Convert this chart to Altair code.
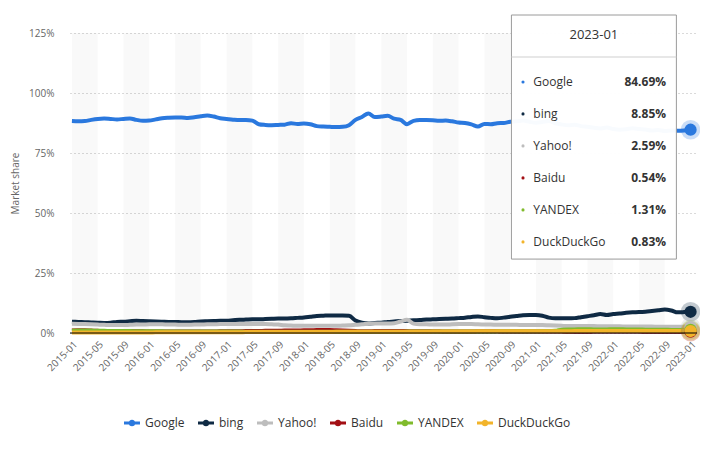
import json
import altair as alt
import pandas as pd

# ---------------- data ----------------
SERIES = ["Google", "bing", "Yahoo!", "Baidu", "YANDEX", "DuckDuckGo"]
COLORS = ["#2a78de", "#0f2a44", "#bdbdbd", "#a30f14", "#80bb2c", "#f2b42a"]

MONTHS = [f"{y}-{m:02d}" for y in range(2015, 2023) for m in range(1, 13)] + ["2023-01"]
TICK_LABELS = ["2015-01", "2015-05", "2015-09", "2016-01", "2016-05", "2016-09",
               "2017-01", "2017-05", "2017-09", "2018-01", "2018-05", "2018-09",
               "2019-01", "2019-05", "2019-09", "2020-01", "2020-05", "2020-09",
               "2021-01", "2021-05", "2021-09", "2022-01", "2022-05", "2022-09",
               "2023-01"]

GOOGLE = [88.3, 88.2, 88.3, 88.8, 89.2, 89.4, 89.2, 89.0, 89.2, 89.4, 88.8, 88.4,
          88.5, 89.0, 89.5, 89.7, 89.8, 89.8, 89.6, 89.9, 90.3, 90.6, 90.2, 89.5,
          89.2, 88.9, 88.7, 88.8, 88.5, 87.0, 86.7, 86.6, 86.7, 86.8, 87.4, 87.1,
          87.3, 87.0, 86.2, 86.0, 85.9, 85.8, 85.9, 86.6, 88.8, 90.0, 91.5, 90.0,
          90.2, 90.5, 89.3, 88.8, 87.0, 88.4, 88.7, 88.7, 88.6, 88.4, 88.5, 88.2,
          87.7, 87.5, 86.9, 86.0, 87.1, 87.0, 87.4, 87.5, 88.0, 88.2, 88.5, 88.0,
          87.6, 87.9, 88.3, 87.4, 86.9, 86.6, 86.8, 86.2, 85.9, 85.5, 85.2, 85.6,
          85.0, 84.7, 84.9, 85.3, 85.0, 84.8, 84.4, 84.6, 84.2, 84.4, 84.3, 84.4,
          84.69]
BING = [4.7, 4.6, 4.5, 4.4, 4.3, 4.2, 4.3, 4.6, 4.7, 4.9, 5.1, 5.0,
        4.9, 4.8, 4.7, 4.6, 4.6, 4.5, 4.5, 4.6, 4.8, 4.9, 5.0, 5.1,
        5.1, 5.3, 5.5, 5.6, 5.7, 5.7, 5.8, 5.9, 6.0, 6.0, 6.1, 6.3,
        6.5, 6.8, 7.1, 7.2, 7.3, 7.3, 7.3, 7.2, 5.2, 4.3, 4.0, 4.2,
        4.3, 4.6, 4.8, 5.0, 5.1, 5.3, 5.4, 5.6, 5.7, 5.8, 5.9, 6.0,
        6.2, 6.4, 6.7, 6.9, 6.6, 6.3, 6.1, 6.4, 6.8, 7.1, 7.4, 7.5,
        7.5, 7.2, 6.4, 6.1, 6.1, 6.1, 6.2, 6.6, 7.0, 7.4, 7.9, 7.5,
        7.9, 8.1, 8.4, 8.6, 8.7, 8.9, 9.2, 9.5, 9.8, 9.4, 8.6, 8.7,
        8.85]
YAHOO = [3.9, 3.8, 3.7, 3.6, 3.5, 3.4, 3.3, 3.3, 3.3, 3.4, 3.5, 3.5,
         3.6, 3.6, 3.6, 3.5, 3.5, 3.4, 3.4, 3.5, 3.5, 3.6, 3.6, 3.7,
         3.7, 3.7, 3.7, 3.8, 3.8, 3.7, 3.7, 3.6, 3.5, 3.2, 3.1, 3.0,
         3.0, 3.0, 3.0, 3.0, 3.0, 3.0, 3.1, 3.2, 3.4, 3.6, 3.9, 4.0,
         4.0, 4.0, 4.1, 4.8, 5.5, 3.9, 3.6, 3.6, 3.5, 3.5, 3.5, 3.6,
         3.7, 3.8, 3.8, 3.6, 3.5, 3.5, 3.4, 3.4, 3.4, 3.4, 3.3, 3.3,
         3.3, 3.3, 3.2, 3.1, 3.0, 2.9, 2.9, 2.9, 2.9, 2.9, 2.8, 2.8,
         2.8, 2.8, 2.7, 2.7, 2.7, 2.7, 2.7, 2.6, 2.6, 2.6, 2.6, 2.6,
         2.59]
BAIDU = [1.0, 1.1, 1.1, 1.0, 0.9, 0.8, 0.8, 0.8, 0.7, 0.7, 0.7, 0.7,
         0.6, 0.6, 0.6, 0.6, 0.6, 0.6, 0.6, 0.6, 0.6, 0.6, 0.6, 0.7,
         0.7, 0.7, 0.7, 0.8, 0.8, 0.8, 0.9, 0.9, 0.9, 1.0, 1.0, 1.0,
         1.1, 1.1, 1.2, 1.2, 1.2, 1.1, 1.0, 0.9, 0.8, 0.7, 0.7, 0.8,
         0.8, 0.8, 0.8, 0.8, 0.8, 0.7, 0.7, 0.7, 0.7, 0.7, 0.6, 0.6,
         0.6, 0.6, 0.6, 0.7, 0.7, 0.7, 0.7, 0.6, 0.6, 0.6, 0.6, 0.6,
         0.6, 0.6, 0.6, 0.6, 0.6, 0.5, 0.5, 0.5, 0.5, 0.6, 0.6, 0.6,
         0.6, 0.6, 0.6, 0.6, 0.6, 0.5, 0.5, 0.5, 0.5, 0.5, 0.5, 0.5,
         0.54]
YANDEX = [0.9, 1.0, 1.0, 1.0, 0.9, 0.9, 0.8, 0.8, 0.8, 0.8, 0.7, 0.7,
          0.7, 0.7, 0.7, 0.6, 0.6, 0.6, 0.6, 0.6, 0.6, 0.6, 0.6, 0.6,
          0.6, 0.6, 0.6, 0.5, 0.5, 0.5, 0.5, 0.5, 0.5, 0.5, 0.5, 0.5,
          0.5, 0.5, 0.5, 0.5, 0.5, 0.5, 0.5, 0.5, 0.5, 0.5, 0.5, 0.5,
          0.5, 0.5, 0.5, 0.5, 0.6, 0.6, 0.6, 0.6, 0.6, 0.6, 0.6, 0.6,
          0.6, 0.6, 0.6, 0.6, 0.6, 0.6, 0.7, 0.7, 0.7, 0.7, 0.7, 0.7,
          0.7, 0.8, 0.8, 0.9, 1.4, 1.5, 1.5, 1.6, 1.6, 1.5, 1.5, 1.5,
          1.6, 1.6, 1.5, 1.5, 1.5, 1.4, 1.4, 1.4, 1.4, 1.3, 1.3, 1.3,
          1.31]
DUCKDUCKGO = [0.2, 0.2, 0.2, 0.2, 0.2, 0.2, 0.2, 0.2, 0.2, 0.2, 0.2, 0.2,
              0.2, 0.3, 0.3, 0.3, 0.3, 0.3, 0.3, 0.3, 0.3, 0.3, 0.3, 0.3,
              0.3, 0.3, 0.3, 0.4, 0.4, 0.4, 0.4, 0.4, 0.4, 0.4, 0.4, 0.4,
              0.4, 0.4, 0.4, 0.4, 0.4, 0.5, 0.5, 0.5, 0.5, 0.5, 0.5, 0.5,
              0.5, 0.5, 0.5, 0.5, 0.5, 0.5, 0.5, 0.5, 0.6, 0.6, 0.6, 0.6,
              0.6, 0.6, 0.6, 0.7, 0.7, 0.7, 0.7, 0.7, 0.7, 0.7, 0.7, 0.7,
              0.7, 0.7, 0.7, 0.7, 0.7, 0.7, 0.8, 0.8, 0.8, 0.8, 0.8, 0.8,
              0.8, 0.8, 0.8, 0.8, 0.8, 0.8, 0.8, 0.8, 0.8, 0.8, 0.8, 0.8,
              0.83]

VALUES = dict(zip(SERIES, [GOOGLE, BING, YAHOO, BAIDU, YANDEX, DUCKDUCKGO]))
for s in SERIES:
    assert len(VALUES[s]) == len(MONTHS), s

rows = []
for s in SERIES:
    for i, v in enumerate(VALUES[s]):
        rows.append({"series": s, "idx": i, "month": MONTHS[i], "share": v})
df = pd.DataFrame(rows)
last_idx = len(MONTHS) - 1
df_last = df[df["idx"] == last_idx].copy()

# alternating background bands (every 4 months)
band_starts = list(range(0, last_idx, 8))
bands_df = pd.DataFrame({"start": band_starts, "end": [b + 4 for b in band_starts]})

# ---------------- scales / axes ----------------
FONT = "Open Sans"
xscale = alt.Scale(domain=[-0.3, 97], nice=False, zero=False)
yscale = alt.Scale(domain=[0, 125], nice=False)
tick_pos = [i * 4 for i in range(len(TICK_LABELS))]

xaxis = alt.Axis(values=tick_pos, labelExpr=f"{json.dumps(TICK_LABELS)}[datum.value/4]",
                 labelAngle=-45, labelFontSize=10, labelColor="#666", labelFont=FONT,
                 labelPadding=6, domain=False, ticks=False, grid=False, title=None,
                 labelOverlap=False, labelBound=False, labelFlush=False)
yaxis = alt.Axis(values=[0, 25, 50, 75, 100, 125], labelExpr="datum.value + '%'",
                 labelFontSize=10, labelColor="#666", labelFont=FONT, labelPadding=16,
                 domain=False, ticks=False, grid=True, gridDash=[1, 3], gridColor="#b5b5b5",
                 title="Market share", titleFont=FONT, titleFontSize=10, titleFontWeight="normal",
                 titleColor="#666", titleAngle=270, titleX=-55, titleY=150,
                 titleAlign="center", titleBaseline="middle", labelOverlap=False)


def X(field):
    return alt.X(field, scale=xscale, axis=xaxis)


def Y(field):
    return alt.Y(field, scale=yscale, axis=yaxis)


bands = alt.Chart(bands_df).mark_rect(color="#000", opacity=0.022).encode(
    x=X("start:Q"),
    x2="end:Q",
    y=alt.Y(datum=0, scale=yscale, axis=yaxis),
    y2=alt.datum(125),
)

layers = [bands]
for s, c in zip(SERIES, COLORS):
    layers.append(
        alt.Chart(df[df["series"] == s]).mark_line(strokeWidth=4, interpolate="monotone",
                                                    color=c).encode(
            x=X("idx:Q"), y=Y("share:Q"))
    )
for s, c in zip(SERIES, COLORS):
    layers.append(
        alt.Chart(df_last[df_last["series"] == s]).mark_point(
            filled=True, shape="circle", size=380, opacity=0.25, color=c).encode(
            x=X("idx:Q"), y=Y("share:Q"))
    )

legend_symbol = ("M-1,-0.19H1V0.19H-1Z "
                 "M0.42,0A0.42,0.42 0 1,1 -0.42,0A0.42,0.42 0 1,1 0.42,0Z")
points = alt.Chart(df_last).mark_point(filled=True, shape="circle", size=150, opacity=1).encode(
    x=X("idx:Q"),
    y=Y("share:Q"),
    color=alt.Color("series:N", scale=alt.Scale(domain=SERIES, range=COLORS),
                    sort=SERIES,
                    legend=alt.Legend(title=None, orient="none", direction="horizontal",
                                      columns=6, legendX=54, legendY=382,
                                      symbolType=legend_symbol, symbolSize=256,
                                      symbolStrokeWidth=0, symbolOpacity=1,
                                      labelFont=FONT, labelFontSize=12, labelColor="#333",
                                      labelOffset=5, columnPadding=13)),
)
layers.append(points)

zero_rule = alt.Chart(pd.DataFrame({"y": [0]})).mark_rule(color="#000", strokeWidth=1).encode(
    y=Y("y:Q"))
layers.append(zero_rule)

# ---------------- tooltip box (placed in data coordinates) ----------------
TIP_X0, TIP_X1 = 68.2, 93.8
TIP_Y0, TIP_Y1 = 30.8, 132.5
TIP_TITLE_Y = 124.2
TIP_SEP_Y = 115.0
TIP_ROW_TOP, TIP_ROW_STEP = 104.6, 13.33
TIP_BULLET_X, TIP_NAME_X, TIP_VALUE_X = 70.0, 71.6, 92.2

box = alt.Chart(pd.DataFrame({"x0": [TIP_X0], "x1": [TIP_X1], "y0": [TIP_Y0], "y1": [TIP_Y1]})).mark_rect(
    fill="white", fillOpacity=0.97, stroke="#9a9a9a", strokeWidth=1).encode(
    x=X("x0:Q"), x2="x1:Q", y=Y("y0:Q"), y2="y1:Q")
sep = alt.Chart(pd.DataFrame({"x0": [TIP_X0], "x1": [TIP_X1], "y": [TIP_SEP_Y]})).mark_rule(
    color="#cfcfcf", strokeWidth=1).encode(
    x=X("x0:Q"), x2="x1:Q", y=Y("y:Q"))
title = alt.Chart(pd.DataFrame({"x": [(TIP_X0 + TIP_X1) / 2], "y": [TIP_TITLE_Y],
                                "t": [MONTHS[last_idx]]})).mark_text(
    font=FONT, fontSize=13, color="#333", align="center", baseline="middle").encode(
    x=X("x:Q"), y=Y("y:Q"), text="t:N")

tip_rows = pd.DataFrame({
    "series": SERIES,
    "color": COLORS,
    "value": [f"{VALUES[s][last_idx]:.2f}%" for s in SERIES],
    "y": [TIP_ROW_TOP - i * TIP_ROW_STEP for i in range(len(SERIES))],
    "bx": [TIP_BULLET_X] * len(SERIES),
    "nx": [TIP_NAME_X] * len(SERIES),
    "vx": [TIP_VALUE_X] * len(SERIES),
})
bullets = alt.Chart(tip_rows).mark_point(filled=True, shape="circle", size=10, opacity=1).encode(
    x=X("bx:Q"), y=Y("y:Q"),
    color=alt.Color("color:N", scale=None))
names = alt.Chart(tip_rows).mark_text(font=FONT, fontSize=12, color="#333", align="left",
                                      baseline="middle").encode(
    x=X("nx:Q"), y=Y("y:Q"), text="series:N")
vals = alt.Chart(tip_rows).mark_text(font=FONT, fontSize=12, fontWeight="bold", color="#333",
                                     align="right", baseline="middle").encode(
    x=X("vx:Q"), y=Y("y:Q"), text="value:N")
layers += [box, sep, title, bullets, names, vals]

chart = alt.layer(*layers).properties(
    width=627, height=300,
    autosize=alt.AutoSizeParams(type="none"),
    padding={"left": 62, "top": 25, "right": 3, "bottom": 108},
    background="white",
).configure_view(stroke=None).configure_axisX(labelOverlap=False)

chart.save("out.html", embed_options={"renderer": "svg", "actions": False})
